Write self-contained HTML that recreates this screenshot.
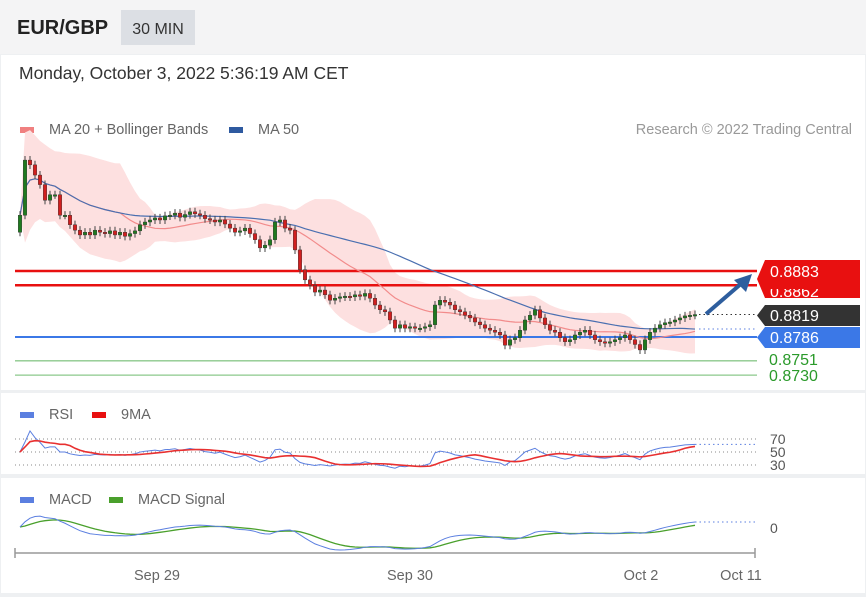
<!DOCTYPE html>
<html><head><meta charset="utf-8"><style>
body{margin:0;width:866px;height:597px;overflow:hidden;background:#eef0f2;font-family:"Liberation Sans",sans-serif;}
svg{position:absolute;left:0;top:0}
</style></head><body>
<svg id="c" width="866" height="597"></svg>
<script>
const closes=[0.8965,0.9046,0.9039,0.9024,0.9010,0.8987,0.8995,0.8995,0.8965,0.8965,0.8951,0.8943,0.8936,
0.8940,0.8936,0.8943,0.8940,0.8938,0.8942,0.8936,0.8940,0.8934,0.8938,0.8942,
0.8951,0.8955,0.8958,0.8961,0.8958,0.8964,0.8965,0.8968,0.8962,0.8966,0.8970,0.8967,0.8965,
0.8960,0.8958,0.8955,0.8958,0.8952,0.8946,0.8940,0.8942,0.8946,0.8938,0.8929,0.8917,0.8921,0.8929,
0.8955,0.8958,0.8946,0.8943,0.8914,0.8885,0.8870,0.8862,0.8852,0.8855,0.8848,0.8840,0.8843,0.8845,
0.8846,0.8845,0.8848,0.8846,0.8850,0.8843,0.8833,0.8826,0.8823,0.8811,0.8799,0.8804,0.8799,0.8801,
0.8799,0.8799,0.8801,0.8804,0.8833,0.8840,0.8837,0.8833,0.8826,0.8823,0.8818,0.8814,0.8808,0.8804,
0.8799,0.8796,0.8793,0.8789,0.8774,0.8782,0.8785,0.8796,0.8811,0.8818,0.8826,0.8814,0.8804,0.8796,
0.8793,0.8785,0.8779,0.8782,0.8789,0.8793,0.8796,0.8789,0.8782,0.8779,0.8777,0.8779,0.8782,0.8785,
0.8789,0.8782,0.8775,0.8767,0.8782,0.8793,0.8799,0.8804,0.8807,0.8808,0.8811,0.8814,0.8817,0.8818,0.8819];
const firstOpen=0.8940;
const levels=[0.8883,0.8862,0.8786,0.8751,0.8730];
const levelColors=["#e81010","#e81010","#3b78e7","#8cc88c","#8cc88c"];
const xTickLabels=["Sep 29","Sep 30","Oct 2","Oct 11"];
const xTickPos=[157,410,641,741];
const rsiTicks=[70,50,30];

const S=document.getElementById('c');const NS="http://www.w3.org/2000/svg";
function el(t,a,txt){const e=document.createElementNS(NS,t);for(const k in a)e.setAttribute(k,a[k]);if(txt!==undefined)e.textContent=txt;S.appendChild(e);return e;}
const py=p=>271-(p-0.8883)*6804;
const n=closes.length;const px=i=>20+i*(675/(n-1));
let r;
r=el('rect',{x:0,y:0,width:866,height:54,fill:'#f4f4f5'});
r=el('rect',{x:1,y:55,width:864,height:335,fill:'#fff'});
r=el('rect',{x:1,y:393,width:864,height:81,fill:'#fff'});
r=el('rect',{x:1,y:478,width:864,height:115,fill:'#fff'});
let t=el('text',{x:17,y:34,'font-size':20,'font-weight':'bold',fill:'#222'},'EUR/GBP');
r=el('rect',{x:121,y:10,width:74,height:35,fill:'#dcdfe4'});
t=el('text',{x:158,y:34,'font-size':16,fill:'#333','text-anchor':'middle'},'30 MIN');
t=el('text',{x:19,y:79,'font-size':17.5,fill:'#333'},'Monday, October 3, 2022 5:36:19 AM CET');
function legend(x,y,c,label,name){let a=el('rect',{x:x,y:y-7,width:14,height:6,fill:c});
let b=el('text',{x:x+29,y:y,'font-size':14.5,fill:'#666'},label);}
legend(20,134,'#f08080','MA 20 + Bollinger Bands','legend-ma20');
legend(229,134,'#2e5aa0','MA 50','legend-ma50');
t=el('text',{x:852,y:134,'font-size':14.5,fill:'#999','text-anchor':'end'},'Research © 2022 Trading Central');
legend(20,419,'#5b7fe0','RSI','legend-rsi');legend(92,419,'#e81010','9MA','legend-9ma');
legend(20,504,'#5b7fe0','MACD','legend-macd');legend(109,504,'#4aa02c','MACD Signal','legend-macd-signal');

const ma=(k)=>closes.map((_,i)=>{const s=closes.slice(Math.max(0,i-k+1),i+1);return s.reduce((a,b)=>a+b,0)/s.length;});
const ma20=ma(20),ma50=ma(50);
const sd=closes.map((_,i)=>{const s=closes.slice(Math.max(0,i-19),i+1);const m=s.reduce((a,b)=>a+b,0)/s.length;return Math.sqrt(s.reduce((a,b)=>a+(b-m)**2,0)/s.length);});
let up=[],dn=[];closes.forEach((_,i)=>{up.push(px(i)+','+py(ma20[i]+2*sd[i]));dn.unshift(px(i)+','+py(ma20[i]-2*sd[i]));});
r=el('polygon',{points:up.concat(dn).join(' '),fill:'#fde0e0'});
levels.forEach((l,i)=>{const ln=el('line',{x1:15,x2:757,y1:py(l),y2:py(l),stroke:levelColors[i],'stroke-width':i<2?2.5:(i==2?2:1.3)});});
const line=(arr,f,c,w,name)=>{const p=el('polyline',{points:arr.map((v,i)=>px(i)+','+f(v)).join(' '),fill:'none',stroke:c,'stroke-width':w});};
line(ma20,py,'#f28b8b',1.2,'ma20-line');line(ma50,py,'#4a6fb0',1.2,'ma50-line');
closes.forEach((c,i)=>{const o=i?closes[i-1]:firstOpen;const x=px(i);
const w=el('line',{x1:x,x2:x,y1:py(Math.max(o,c)+0.0006),y2:py(Math.min(o,c)-0.0006),stroke:'#444','stroke-width':1});
const b=el('rect',{x:x-1.8,y:py(Math.max(o,c)),width:3.6,height:Math.max(1.5,Math.abs(py(o)-py(c))),fill:c>=o?'#1f7a1f':'#d11f1f',stroke:'#333','stroke-width':0.4});});
const last=closes[n-1];
r=el('line',{x1:px(n-1)+4,x2:757,y1:py(last),y2:py(last),stroke:'#333','stroke-dasharray':'1.5,3'});
r=el('line',{x1:px(n-1)+4,x2:757,y1:py(ma50[n-1]),y2:py(ma50[n-1]),stroke:'#5b7fe0','stroke-dasharray':'1.5,3'});
r=el('line',{x1:706,y1:314,x2:742,y2:283,stroke:'#2e5e9e','stroke-width':4});
r=el('polygon',{points:'752,274 734,280 746,292',fill:'#2e5e9e'});
function tag(y1,y2,c,name){const p=el('polygon',{points:`757,${(y1+y2)/2} 765,${y1} 860,${y1} 860,${y2} 765,${y2}`,fill:c});}
tag(260,298,'#e81010','resistance-tag');
t=el('text',{x:770,y:297,'font-size':16,fill:'#fff'},'0.8862');
r=el('rect',{x:765,y:281,width:95,height:8,fill:'#e81010'});
t=el('text',{x:770,y:277,'font-size':16,fill:'#fff'},'0.8883');
tag(305,326,'#333','last-price-tag');
t=el('text',{x:770,y:321,'font-size':16,fill:'#fff'},'0.8819');
tag(327,348,'#3b78e7','support-tag');
t=el('text',{x:770,y:343,'font-size':16,fill:'#fff'},'0.8786');
t=el('text',{x:769,y:365,'font-size':16,fill:'#2a9a2a'},'0.8751');
t=el('text',{x:769,y:381,'font-size':16,fill:'#2a9a2a'},'0.8730');

let rsi=[],ag=0,al=0;closes.forEach((c,i)=>{if(i==0){rsi.push(50);return;}const d=c-closes[i-1];const g=Math.max(d,0),l=Math.max(-d,0);
if(i<=14){ag=(ag*(i-1)+g)/i;al=(al*(i-1)+l)/i;}else{ag=(ag*13+g)/14;al=(al*13+l)/14;}rsi.push(al==0?70:100-100/(1+ag/al));});
const rsiMa=rsi.map((_,i)=>{const s=rsi.slice(Math.max(0,i-8),i+1);return s.reduce((a,b)=>a+b,0)/s.length;});
const ry=v=>452-(v-50)*0.5;
rsiTicks.forEach(v=>{const yy=452-(v-50)*0.65;const l=el('line',{x1:15,x2:757,y1:yy,y2:yy,stroke:'#888','stroke-dasharray':'1,3'});
const tx=el('text',{x:770,y:yy+5,'font-size':14,fill:'#555'},String(v));});
line(rsi,ry,'#5b7fe0',1,'rsi-line');line(rsiMa,ry,'#e83030',1.6,'rsi-9ma-line');
r=el('line',{x1:px(n-1),x2:757,y1:ry(rsi[n-1]),y2:ry(rsi[n-1]),stroke:'#5b7fe0','stroke-dasharray':'1.5,3'});
const ema=(a,k)=>{const m=2/(k+1);let out=[],e=a[0];a.forEach(v=>{e=v*m+e*(1-m);out.push(e);});return out;};
const e12=ema(closes,12),e26=ema(closes,26);const macd=e12.map((v,i)=>v-e26[i]);const sig=ema(macd,9);
const mmax=Math.max(...macd.map(Math.abs),...sig.map(Math.abs));
const my=v=>527-v/mmax*23;
line(sig,my,'#4aa02c',1.3,'macd-signal-line');line(macd,my,'#5b7fe0',1,'macd-line');
r=el('line',{x1:px(n-1),x2:757,y1:my(macd[n-1]),y2:my(macd[n-1]),stroke:'#5b7fe0','stroke-dasharray':'1.5,3'});
t=el('text',{x:770,y:533,'font-size':14,fill:'#555'},'0');
r=el('line',{x1:15,x2:755,y1:553,y2:553,stroke:'#999','stroke-width':1.5});
[15,755].forEach(x=>{const l=el('line',{x1:x,x2:x,y1:548,y2:558,stroke:'#999','stroke-width':1.5});});
xTickLabels.forEach((s,i)=>{const tx=el('text',{x:xTickPos[i],y:580,'font-size':14.5,fill:'#666','text-anchor':'middle'},s);});
</script>
</body></html>
